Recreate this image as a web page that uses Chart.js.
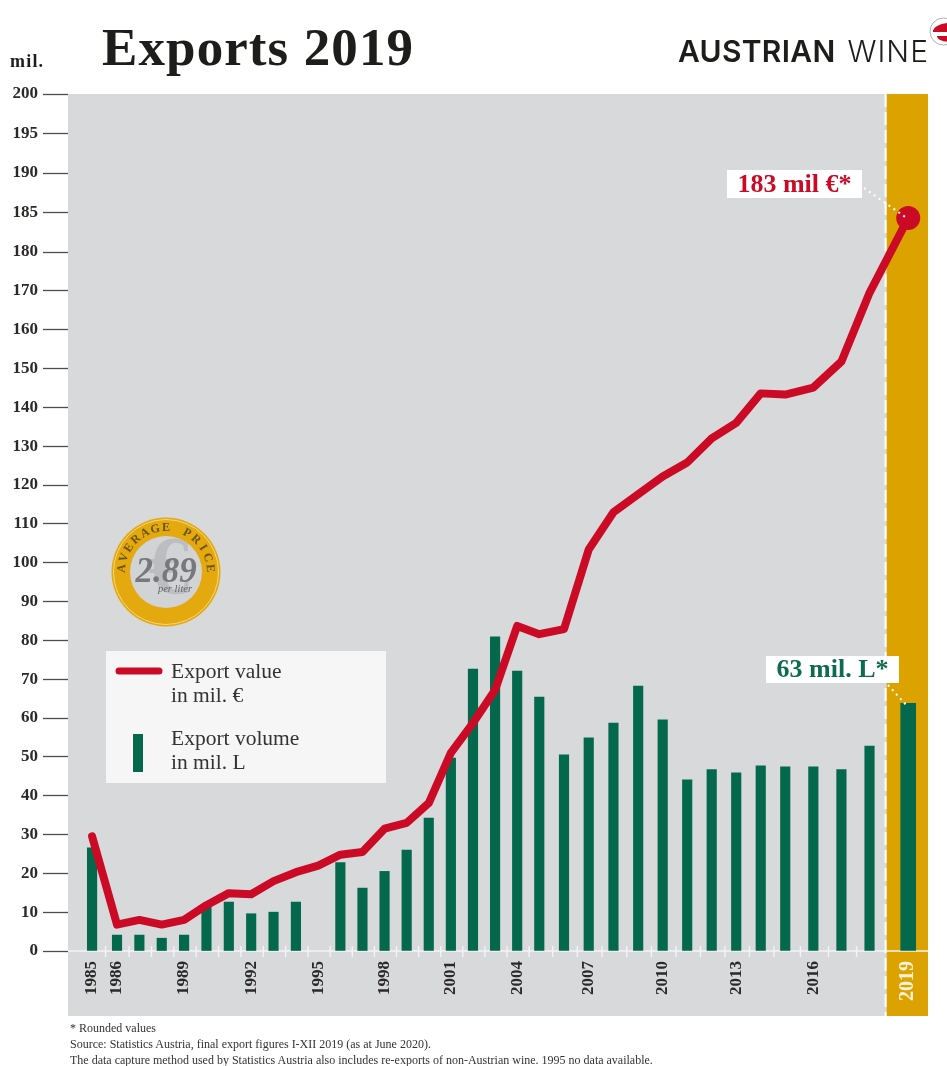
<!DOCTYPE html>
<html>
<head>
<meta charset="utf-8">
<title>Exports 2019</title>
<script src="https://cdn.jsdelivr.net/npm/chart.js@4/dist/chart.umd.js"></script>
<style>
    html, body { margin: 0; padding: 0; background: #fff; }
    #wrap { position: relative; width: 947px; height: 1066px; overflow: hidden; }
    #wrap canvas { position: absolute; left: 0; top: 0; }
    .txt { position: absolute; white-space: nowrap; font-family: "Liberation Serif", serif; }
    #title { left: 102px; top: 17px; font-size: 53px; font-weight: bold; color: #1d1d1b; letter-spacing: 1.1px; line-height: 60px; }
    #unit { left: 10px; top: 51px; font-size: 18px; font-weight: bold; color: #1d1d1b; letter-spacing: 1.2px; line-height: 20px; }
    #logo { left: 678px; top: 32px; font-family: Inter, sans-serif; font-size: 30px; line-height: 38px; color: #1d1d1b; }
    #logo b { font-weight: 600; letter-spacing: 0.3px; }
    #logo span { font-weight: 300; margin-left: 12px; letter-spacing: 1px; }
    .foot { left: 70px; font-size: 12px; color: #333; line-height: 14px; }
</style>
</head>
<body>
<div id="wrap">
    <canvas id="myChart" width="947" height="1066"></canvas>
    <div class="txt" id="title">Exports 2019</div>
    <div class="txt" id="unit">mil.</div>
    <div class="txt" id="logo"><b>AUSTRIAN</b><span>WINE</span></div>
    <div class="txt foot" style="top:1021px">* Rounded values</div>
    <div class="txt foot" style="top:1037px">Source: Statistics Austria, final export figures I-XII 2019 (as at June 2020).</div>
    <div class="txt foot" style="top:1053px">The data capture method used by Statistics Austria also includes re-exports of non-Austrian wine. 1995 no data available.</div>
</div>
<script>
const years = [1985, 1986, 1987, 1988, 1989, 1990, 1991, 1992, 1993, 1994, 1995, 1996, 1997, 1998, 1999, 2000, 2001, 2002,
    2003, 2004, 2005, 2006, 2007, 2008, 2009, 2010, 2011, 2012, 2013, 2014, 2015, 2016, 2017, 2018, 2019];
const exportValue = [29.5, 6.8, 8, 6.8, 8, 11.8, 14.9, 14.6, 18, 20.3, 22, 24.8, 25.5, 31.5, 33, 38.1, 51, 58.7,
    67.2, 83.7, 81.6, 82.9, 103.4, 113, 117.6, 122.2, 125.8, 132, 136, 143.6, 143.3, 145.1, 151.8, 169.5, 184.3];
const exportVolume = [26.6, 4.1, 4.1, 3.3, 4.1, 11.5, 12.6, 9.6, 10, 12.6, null, 22.8, 16.2, 20.5, 26, 34.2, 49.7, 72.6,
    80.9, 72.1, 65.4, 50.5, 54.9, 58.7, 68.2, 59.5, 44.1, 46.7, 45.9, 47.7, 47.4, 47.4, 46.7, 52.8, 63.8];
const yearTicks = [1985, 1986, 1989, 1992, 1995, 1998, 2001, 2004, 2007, 2010, 2013, 2016, 2019];
const valueTicks = [0, 10, 20, 30, 40, 50, 60, 70, 80, 90, 100, 110, 120, 130, 140, 150, 160, 170, 180, 185, 190, 195, 200];

const RED = "#cb0a26";
const GREEN = "#04694c";
const GOLD = "#dca300";
const lastYear = years[years.length - 1];

// The printed axes are not evenly spaced, so both go through stops
class StopScale extends Chart.LinearScale {
    static id = "stops";
    static defaults = Chart.LinearScale.defaults;
    buildTicks() {
        return this.options.tickValues.map((value) => ({ value }));
    }
    getPixelForValue(value) {
        const { stops, spread } = this.options;
        let i = 0;
        while (i < stops.length - 2 && value > stops[i + 1]) i++;
        const f = spread[i] + ((value - stops[i]) / (stops[i + 1] - stops[i])) * (spread[i + 1] - spread[i]);
        return this.getPixelForDecimal(f);
    }
    getValueForPixel(pixel) {
        const { stops, spread } = this.options;
        const f = this.getDecimalForPixel(pixel);
        let i = 0;
        while (i < spread.length - 2 && f > spread[i + 1]) i++;
        return stops[i] + ((f - spread[i]) / (spread[i + 1] - spread[i])) * (stops[i + 1] - stops[i]);
    }
}
Chart.register(StopScale);

function drawCoin(ctx, cx, cy) {
    ctx.save();
    ctx.beginPath();
    ctx.arc(cx, cy, 54.5, 0, Math.PI * 2);
    ctx.fillStyle = "#e3a90f";
    ctx.fill();
    ctx.beginPath();
    ctx.arc(cx, cy, 52.5, 0, Math.PI * 2);
    ctx.strokeStyle = "#f4d685";
    ctx.lineWidth = 1;
    ctx.stroke();
    ctx.beginPath();
    ctx.arc(cx, cy, 36, 0, Math.PI * 2);
    ctx.fillStyle = "#d2d3d5";
    ctx.fill();
    ctx.clip();
    ctx.fillStyle = "#bcbdc0";
    ctx.font = 'bold 82px "Liberation Serif"';
    ctx.textAlign = "center";
    ctx.textBaseline = "middle";
    ctx.fillText("€", cx + 3, cy);
    ctx.restore();

    ctx.save();
    ctx.textAlign = "center";
    ctx.textBaseline = "alphabetic";
    ctx.fillStyle = "#77787b";
    ctx.font = 'italic bold 35px "Liberation Serif"';
    ctx.fillText("2.89", cx, cy + 10);
    ctx.font = 'italic 10.5px "Liberation Serif"';
    ctx.fillStyle = "#636466";
    ctx.fillText("per liter", cx + 9, cy + 20);

    // curved caption on the ring
    const caption = "AVERAGE PRICE";
    ctx.font = 'bold 12px "Liberation Serif"';
    ctx.fillStyle = "#6b5410";
    const step = (14.2 * Math.PI) / 180;
    for (let i = 0; i < caption.length; i++) {
        const a = -Math.PI / 2 + (i - (caption.length - 1) / 2) * step;
        ctx.save();
        ctx.translate(cx + Math.cos(a) * 41, cy + Math.sin(a) * 41);
        ctx.rotate(a + Math.PI / 2);
        ctx.fillText(caption[i], 0, 0);
        ctx.restore();
    }
    ctx.restore();
}

function drawLegend(ctx) {
    ctx.save();
    ctx.fillStyle = "#f6f6f7";
    ctx.fillRect(106, 651, 280, 132);
    ctx.strokeStyle = RED;
    ctx.lineWidth = 7;
    ctx.lineCap = "round";
    ctx.beginPath();
    ctx.moveTo(119, 671);
    ctx.lineTo(159, 671);
    ctx.stroke();
    ctx.fillStyle = GREEN;
    ctx.fillRect(133, 734, 10, 38);
    ctx.fillStyle = "#333";
    ctx.font = '21.5px "Liberation Serif"';
    ctx.fillText("Export value", 171, 678);
    ctx.fillText("in mil. €", 171, 702);
    ctx.fillText("Export volume", 171, 745);
    ctx.fillText("in mil. L", 171, 769);
    ctx.restore();
}

function drawCallout(ctx, text, color, box, fromX, fromY, toX, toY) {
    ctx.save();
    ctx.fillStyle = "#fff";
    ctx.fillRect(box[0], box[1], box[2], box[3]);
    ctx.fillStyle = color;
    ctx.font = 'bold 26px "Liberation Serif"';
    ctx.textAlign = "center";
    ctx.textBaseline = "middle";
    ctx.fillText(text, box[0] + box[2] / 2, box[1] + box[3] / 2 + 1);
    ctx.strokeStyle = "#fff";
    ctx.lineWidth = 2;
    ctx.setLineDash([2, 4]);
    ctx.beginPath();
    ctx.moveTo(fromX, fromY);
    ctx.lineTo(toX, toY);
    ctx.stroke();
    ctx.restore();
}

function drawLogoMark(ctx) {
    ctx.save();
    ctx.beginPath();
    ctx.arc(943.5, 31.5, 13.5, 0, Math.PI * 2);
    ctx.fillStyle = "#fff";
    ctx.fill();
    ctx.strokeStyle = "#9a9a9a";
    ctx.lineWidth = 0.8;
    ctx.stroke();
    ctx.clip();
    ctx.fillStyle = RED;
    ctx.beginPath();
    ctx.ellipse(948, 31, 15, 8, -0.05, Math.PI, Math.PI * 2);
    ctx.fill();
    ctx.fillRect(933, 30, 14, 2);
    ctx.beginPath();
    ctx.ellipse(950, 36, 13, 6, 0, 0, Math.PI);
    ctx.fill();
    ctx.restore();
}

const pagePlugin = {
    id: "page",
    beforeDraw(chart) {
        const { ctx, chartArea: a, scales: { x } } = chart;
        const split = x.getPixelForValue(lastYear - 0.56);
        ctx.save();
        ctx.fillStyle = "#d8d9db";
        ctx.fillRect(a.left, a.top, split - a.left, 1016 - a.top);
        ctx.fillStyle = GOLD;
        ctx.fillRect(split, a.top, a.right - split, 1016 - a.top);
        ctx.restore();
    },
    beforeDatasetsDraw(chart) {
        const { ctx, chartArea: a, scales: { x } } = chart;
        const split = x.getPixelForValue(lastYear - 0.56);
        ctx.save();
        // white zero line with year marks between the bars
        ctx.strokeStyle = "#f4f4f4";
        ctx.lineWidth = 1.4;
        ctx.beginPath();
        ctx.moveTo(a.left, a.bottom);
        ctx.lineTo(a.right, a.bottom);
        years.slice(0, -2).forEach((y) => {
            const px = x.getPixelForValue(y + 0.54);
            ctx.moveTo(px, a.bottom - 5);
            ctx.lineTo(px, a.bottom + 6);
        });
        ctx.stroke();
        ctx.strokeStyle = "#fff";
        ctx.lineWidth = 2;
        ctx.setLineDash([13, 5]);
        ctx.beginPath();
        ctx.moveTo(split - 1, a.top);
        ctx.lineTo(split - 1, 1016);
        ctx.stroke();
        ctx.restore();
        drawCoin(ctx, 166, 572);
        drawLegend(ctx);
    },
    afterDatasetsDraw(chart) {
        const { ctx, scales: { x, y } } = chart;
        const last = years.length - 1;
        const px = x.getPixelForValue(lastYear);
        drawCallout(ctx, "183 mil €*", RED, [727, 170, 135, 28], 864, 188, px, y.getPixelForValue(exportValue[last]) + 1);
        drawCallout(ctx, "63 mil. L*", "#0f6b50", [766, 656, 133, 27], 888, 685, px, y.getPixelForValue(exportVolume[last]) + 4);
        drawLogoMark(ctx);
    },
};

const ctx = document.getElementById("myChart");
const myChart = new Chart(ctx, {
    type: "bar",
    data: {
        labels: years,
        datasets: [
            {
                type: "line",
                label: "Export value in mil. €",
                data: exportValue,
                borderColor: RED,
                backgroundColor: RED,
                borderWidth: 8,
                borderCapStyle: "round",
                borderJoinStyle: "round",
                tension: 0,
                pointRadius: (c) => (c.dataIndex === years.length - 1 ? 12 : 0),
                pointBorderWidth: 0,
                pointHoverRadius: 0,
                order: 0,
            },
            {
                label: "Export volume in mil. L",
                data: exportVolume.map((v, i) => (i < years.length - 1 ? v : null)),
                backgroundColor: GREEN,
                barThickness: 9.5,
                grouped: false,
                order: 1,
            },
            {
                label: "Export volume 2019",
                data: exportVolume.map((v, i) => (i === years.length - 1 ? v : null)),
                backgroundColor: GREEN,
                barThickness: 15,
                grouped: false,
                order: 1,
            },
        ],
    },
    options: {
        responsive: false,
        animation: false,
        layout: { padding: { top: 94, right: 19, left: 0, bottom: 0 } },
        plugins: { legend: { display: false }, tooltip: { enabled: false }, title: { display: false } },
        scales: {
            x: {
                type: "stops",
                min: 1983.9,
                max: 2019.55,
                offset: false,
                stops: [1983.9, 1985, 1986, 1995, 2005, 2009, 2015, 2018, 2019, 2019.55],
                spread: [0, 0.028, 0.057, 0.291, 0.548, 0.663, 0.834, 0.932, 0.977, 1],
                tickValues: yearTicks,
                grid: { display: false },
                border: { display: false },
                ticks: {
                    autoSkip: false,
                    minRotation: 90,
                    maxRotation: 90,
                    padding: 2,
                    callback: (v) => String(v),
                    color: (c) => (c.tick.value === lastYear ? "#fbf3d9" : "#2b2a29"),
                    font: (c) => ({
                        family: "Liberation Serif",
                        weight: "bold",
                        size: c.tick.value === lastYear ? 20 : 17,
                    }),
                },
                afterFit: (scale) => { scale.height = 115; },
            },
            y: {
                type: "stops",
                min: 0,
                max: 200,
                stops: [0, 180, 200],
                spread: [0, 0.8156, 1],
                tickValues: valueTicks,
                grid: { drawOnChartArea: false, tickLength: 25, tickColor: "#4d4d4d", tickWidth: 1.3 },
                border: { display: false },
                ticks: {
                    autoSkip: false,
                    padding: 5,
                    color: "#2b2a29",
                    callback: (v) => String(v),
                    font: { family: "Liberation Serif", weight: "bold", size: 17 },
                },
                afterFit: (scale) => { scale.width = 68; },
            },
        },
    },
    plugins: [pagePlugin],
});
</script>
</body>
</html>
